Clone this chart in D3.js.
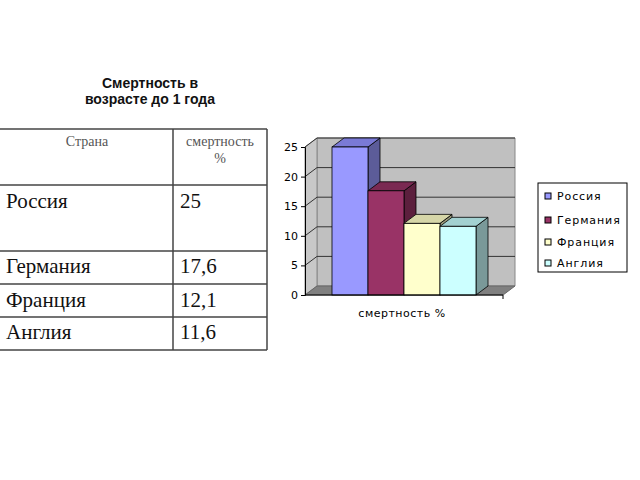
<!DOCTYPE html>
<html>
<head>
<meta charset="utf-8">
<script src="https://cdn.jsdelivr.net/npm/d3@7"></script>
<style>
  body { margin: 0; background: #fff; }
</style>
</head>
<body>
<svg width="640" height="480"></svg>
<script>
/* Data */

var countries = ["Россия", "Германия", "Франция", "Англия"];
var mortality = [25, 17.6, 12.1, 11.6];
var yTicks = [0, 5, 10, 15, 20, 25];
var titleLines = ["Смертность в", "возрасте до 1 года"];
var tableHeader = ["Страна", "смертность", "%"];
var axisTitle = "смертность %";

var frontColors = ["#9999ff", "#993366", "#ffffcc", "#ccffff"];
var topColors   = ["#7a7ad6", "#7a2952", "#d6d6a8", "#a3d1d1"];
var sideColors  = ["#5c5c99", "#5c1f3d", "#99997a", "#7a9999"];

var svg = d3.select("svg");

/* Title */

svg.selectAll(".title")
  .data(titleLines)
  .enter().append("text")
  .attr("x", 150)
  .attr("y", (d, i) => 88 + i * 16)
  .attr("text-anchor", "middle")
  .style("font-family", "Liberation Sans, Arial, sans-serif")
  .style("font-weight", "bold")
  .style("font-size", "14px")
  .attr("fill", "#111")
  .text((d) => d);

/* Table */

var rowTops = [129, 185, 251, 284, 317, 350];
var colX = [0, 173, 267];
var tbl = svg.append("g");

tbl.selectAll(".hline")
  .data(rowTops)
  .enter().append("line")
  .attr("x1", 0).attr("x2", colX[2])
  .attr("y1", (d) => d).attr("y2", (d) => d)
  .attr("stroke", "#444").attr("stroke-width", 1.5);

tbl.selectAll(".vline")
  .data(colX.slice(1))
  .enter().append("line")
  .attr("x1", (d) => d).attr("x2", (d) => d)
  .attr("y1", rowTops[0]).attr("y2", rowTops[5])
  .attr("stroke", "#444").attr("stroke-width", 1.5);

var serif = "Liberation Serif, Times New Roman, serif";

tbl.append("text")
  .attr("x", 87).attr("y", 146)
  .attr("text-anchor", "middle")
  .style("font-family", serif).style("font-size", "14px")
  .attr("fill", "#555")
  .text(tableHeader[0]);

tbl.selectAll(".hdr")
  .data(tableHeader.slice(1))
  .enter().append("text")
  .attr("x", 220)
  .attr("y", (d, i) => 146 + i * 17)
  .attr("text-anchor", "middle")
  .style("font-family", serif).style("font-size", "14px")
  .attr("fill", "#555")
  .text((d) => d);

var rowBase = [208, 273, 307, 339];

tbl.selectAll(".cname")
  .data(countries)
  .enter().append("text")
  .attr("x", 6)
  .attr("y", (d, i) => rowBase[i])
  .style("font-family", serif).style("font-size", "21px")
  .attr("fill", "#111")
  .text((d) => d);

tbl.selectAll(".cval")
  .data(mortality)
  .enter().append("text")
  .attr("x", 180)
  .attr("y", (d, i) => rowBase[i])
  .style("font-family", serif).style("font-size", "21px")
  .attr("fill", "#111")
  .text((d) => String(d).replace(".", ","));

/* 3D bar chart */

var depth = { x: 12, y: -9 };
var x0 = 305, x1 = 503;

var y = d3.scaleLinear().domain([0, 25]).range([295, 147]);
var x = d3.scaleBand()
  .domain(countries)
  .range([x0, x1])
  .paddingInner(0)
  .paddingOuter(0.75);

var chart = svg.append("g");
var poly = (pts) => pts.map((p) => p.join(",")).join(" ");

// back wall
chart.append("polygon")
  .attr("points", poly([
    [x0 + depth.x, y(25) + depth.y], [x1 + depth.x, y(25) + depth.y],
    [x1 + depth.x, y(0) + depth.y], [x0 + depth.x, y(0) + depth.y]]))
  .attr("fill", "#c0c0c0").attr("stroke", "#888");

// left wall
chart.append("polygon")
  .attr("points", poly([
    [x0, y(25)], [x0 + depth.x, y(25) + depth.y],
    [x0 + depth.x, y(0) + depth.y], [x0, y(0)]]))
  .attr("fill", "#c8c8c8").attr("stroke", "#888");

// floor
chart.append("polygon")
  .attr("points", poly([
    [x0, y(0)], [x0 + depth.x, y(0) + depth.y],
    [x1 + depth.x, y(0) + depth.y], [x1, y(0)]]))
  .attr("fill", "#808080").attr("stroke", "#666");

// gridlines
var grid = chart.selectAll(".grid")
  .data(yTicks.slice(1))
  .enter().append("g");

grid.append("line")
  .attr("x1", x0 + depth.x).attr("x2", x1 + depth.x)
  .attr("y1", (d) => y(d) + depth.y).attr("y2", (d) => y(d) + depth.y)
  .attr("stroke", "#333");

grid.append("line")
  .attr("x1", x0).attr("x2", x0 + depth.x)
  .attr("y1", (d) => y(d)).attr("y2", (d) => y(d) + depth.y)
  .attr("stroke", "#333");

// bars, left to right so each front hides the previous side
var bars = chart.selectAll(".bar")
  .data(mortality)
  .enter().append("g");

bars.append("polygon")
  .attr("points", (d, i) => {
    var r = x(countries[i]) + x.bandwidth();
    return poly([[r, y(d)], [r + depth.x, y(d) + depth.y],
                 [r + depth.x, y(0) + depth.y], [r, y(0)]]);
  })
  .attr("fill", (d, i) => sideColors[i])
  .attr("stroke", "#000").attr("stroke-width", 0.8);

bars.append("polygon")
  .attr("points", (d, i) => {
    var l = x(countries[i]), r = l + x.bandwidth();
    return poly([[l, y(d)], [l + depth.x, y(d) + depth.y],
                 [r + depth.x, y(d) + depth.y], [r, y(d)]]);
  })
  .attr("fill", (d, i) => topColors[i])
  .attr("stroke", "#000").attr("stroke-width", 0.8);

bars.append("rect")
  .attr("x", (d, i) => x(countries[i]))
  .attr("y", (d) => y(d))
  .attr("width", x.bandwidth())
  .attr("height", (d) => y(0) - y(d))
  .attr("fill", (d, i) => frontColors[i])
  .attr("stroke", "#000").attr("stroke-width", 0.8);

// axes
var axisFont = "DejaVu Sans, Verdana, sans-serif";

chart.append("g")
  .attr("transform", "translate(" + x0 + ",0)")
  .call(d3.axisLeft(y).tickValues(yTicks).tickSize(4).tickPadding(3))
  .call((g) => g.select(".domain").attr("stroke", "#000"))
  .call((g) => g.selectAll("text")
    .style("font-family", axisFont).style("font-size", "11px"));

chart.append("line")
  .attr("x1", x0).attr("x2", x1)
  .attr("y1", y(0)).attr("y2", y(0))
  .attr("stroke", "#000");

chart.append("line")
  .attr("x1", x1).attr("x2", x1)
  .attr("y1", y(0)).attr("y2", y(0) + 4)
  .attr("stroke", "#000");

chart.append("text")
  .attr("x", 402).attr("y", 317)
  .attr("text-anchor", "middle")
  .style("font-family", axisFont).style("font-size", "11px")
  .style("letter-spacing", "0.5px")
  .text(axisTitle);

/* Legend */

var legend = svg.append("g");
var legendY = [196, 220, 242, 263];

legend.append("rect")
  .attr("x", 538).attr("y", 183)
  .attr("width", 89).attr("height", 89)
  .attr("fill", "#fff").attr("stroke", "#000");

var items = legend.selectAll(".item")
  .data(countries)
  .enter().append("g")
  .attr("transform", (d, i) => "translate(545," + legendY[i] + ")");

items.append("rect")
  .attr("x", 0).attr("y", -3)
  .attr("width", 6).attr("height", 6)
  .attr("fill", (d, i) => frontColors[i])
  .attr("stroke", "#000");

items.append("text")
  .attr("x", 12).attr("y", 4)
  .style("font-family", axisFont).style("font-size", "11px")
  .style("letter-spacing", "0.9px")
  .attr("fill", "#000")
  .text((d) => d);
</script>
</body>
</html>
